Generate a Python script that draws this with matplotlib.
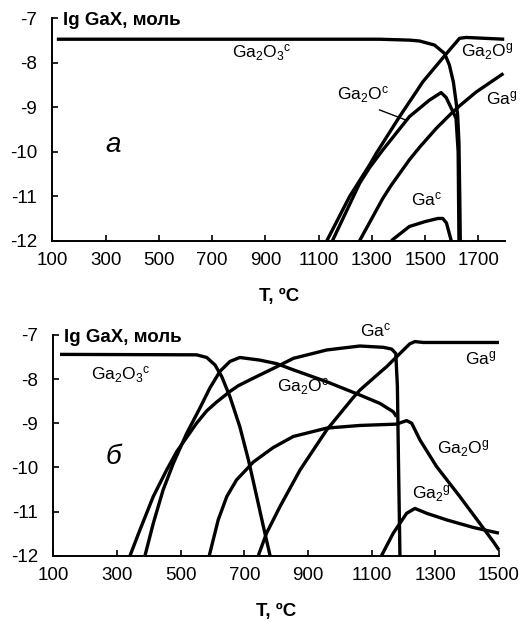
import matplotlib
matplotlib.use("Agg")
import matplotlib.pyplot as plt

plt.rcParams['font.family'] = ['Liberation Sans', 'DejaVu Sans']
plt.rcParams['mathtext.default'] = 'regular'
plt.rcParams['axes.unicode_minus'] = False

# ---- panel a ----
a_ga2o3c_t = [117, 1329, 1441, 1479, 1535, 1573, 1591, 1606, 1616, 1622, 1627, 1630, 1632]
a_ga2o3c_y = [-7.47, -7.47, -7.49, -7.51, -7.60, -7.79, -8.05, -8.43, -8.87, -9.17, -9.8, -11.0, -12.0]
a_ga2og_t = [1131, 1216, 1291, 1316, 1404, 1469, 1491, 1579, 1615, 1629, 1654, 1797]
a_ga2og_y = [-12.0, -11.01, -10.30, -10.04, -9.21, -8.63, -8.43, -7.80, -7.55, -7.45, -7.43, -7.47]
a_ga2oc_t = [1152, 1254, 1291, 1341, 1441, 1516, 1560, 1579, 1598, 1616, 1624, 1627]
a_ga2oc_y = [-12.0, -10.71, -10.36, -9.96, -9.21, -8.84, -8.67, -8.78, -9.02, -9.25, -10.0, -12.0]
a_gag_t = [1254, 1341, 1373, 1441, 1479, 1541, 1598, 1629, 1691, 1794]
a_gag_y = [-12.0, -11.05, -10.75, -10.18, -9.90, -9.48, -9.14, -8.97, -8.66, -8.24]
a_gac_t = [1373, 1441, 1500, 1548, 1566, 1580, 1598]
a_gac_y = [-12.0, -11.68, -11.57, -11.50, -11.50, -11.60, -12.0]

# ---- panel b ----
b_ga2o3c_t = [121, 550, 582, 608, 629, 655, 686, 713, 739, 760, 781]
b_ga2o3c_y = [-7.44, -7.45, -7.51, -7.68, -7.94, -8.40, -9.08, -9.83, -10.66, -11.34, -12.0]
b_ga2oc_t = [388, 414, 445, 477, 519, 561, 592, 624, 655, 686, 749, 802, 854, 959, 1063, 1126, 1168, 1178]
b_ga2oc_y = [-12.0, -11.27, -10.51, -9.91, -9.23, -8.65, -8.20, -7.82, -7.60, -7.51, -7.57, -7.65,
             -7.79, -8.06, -8.36, -8.55, -8.74, -8.85]
b_gac_t = [341, 372, 414, 456, 488, 550, 582, 613, 655, 681, 728, 802, 854, 959, 1063, 1137, 1163,
           1176, 1181, 1184, 1189]
b_gac_y = [-12.0, -11.42, -10.66, -10.06, -9.64, -9.0, -8.72, -8.52, -8.28, -8.15, -7.98, -7.72,
           -7.53, -7.34, -7.25, -7.28, -7.32, -7.42, -8.17, -9.68, -12.0]
b_gag_t = [744, 770, 812, 875, 959, 1042, 1063, 1126, 1147, 1189, 1220, 1236, 1262, 1500]
b_gag_y = [-12.0, -11.49, -10.89, -10.06, -9.15, -8.42, -8.25, -7.85, -7.72, -7.42, -7.20, -7.15,
           -7.17, -7.17]
b_ga2og_t = [590, 618, 645, 676, 705, 728, 791, 854, 959, 1063, 1178, 1210, 1226, 1252, 1304,
             1377, 1440, 1482, 1500]
b_ga2og_y = [-12.0, -11.19, -10.66, -10.28, -10.06, -9.88, -9.55, -9.30, -9.11, -9.05, -9.02, -8.94,
             -9.0, -9.38, -9.98, -10.66, -11.27, -11.68, -11.87]
b_ga2g_t = [1131, 1168, 1210, 1236, 1273, 1336, 1419, 1500]
b_ga2g_y = [-12.0, -11.49, -11.04, -10.93, -11.04, -11.19, -11.36, -11.49]

yticks = [-7, -8, -9, -10, -11, -12]
a_xticks = [100, 300, 500, 700, 900, 1100, 1300, 1500, 1700]
b_xticks = [100, 300, 500, 700, 900, 1100, 1300, 1500]

lw = 2.4
fs = 13.5
lfs = 12.5

fig = plt.figure(figsize=(5.2, 6.21), dpi=100)
ax1 = fig.add_axes([0.1006, 0.6124, 0.8706, 0.3581])
ax2 = fig.add_axes([0.1025, 0.1052, 0.857, 0.3554])


def style(ax, xlim, xticks):
    ax.set_xlim(*xlim)
    ax.set_ylim(-12, -7)
    ax.set_xticks(xticks)
    ax.set_yticks(yticks)
    for s in ['top', 'right']:
        ax.spines[s].set_visible(False)
    for s in ['left', 'bottom']:
        ax.spines[s].set_linewidth(1.4)
    ax.tick_params(direction='in', length=4, width=1.2, labelsize=fs)
    ax.tick_params(axis='y', pad=11)
    ax.tick_params(axis='x', pad=8)
    ax.set_xlabel('T, ºC', fontsize=fs, fontweight='bold', labelpad=14)
    ax.text(xlim[0] + (xlim[1] - xlim[0]) * 0.024, -7.06, 'lg GaX, моль',
            fontsize=fs, fontweight='bold', va='center', ha='left')


for t, y in [(a_ga2o3c_t, a_ga2o3c_y), (a_ga2og_t, a_ga2og_y), (a_ga2oc_t, a_ga2oc_y),
             (a_gag_t, a_gag_y), (a_gac_t, a_gac_y)]:
    ax1.plot(t, y, color='black', lw=lw, clip_on=False, solid_capstyle='butt',
             solid_joinstyle='round')
style(ax1, (100, 1800), a_xticks)
ax1.plot([1329, 1429], [-9.06, -9.29], color='black', lw=1.0)
ax1.text(886, -7.78, r'Ga$_2$O$_3$$^c$', fontsize=lfs, ha='center', va='center')
ax1.text(1636, -7.76, r'Ga$_2$O$^g$', fontsize=lfs, ha='left', va='center')
ax1.text(1168, -8.72, r'Ga$_2$O$^c$', fontsize=lfs, ha='left', va='center')
ax1.text(1727, -8.8, r'Ga$^g$', fontsize=lfs, ha='left', va='center')
ax1.text(1448, -11.08, r'Ga$^c$', fontsize=lfs, ha='left', va='center')
ax1.text(328, -9.85, 'a', fontsize=20, style='italic', ha='center', va='center')

for t, y in [(b_ga2o3c_t, b_ga2o3c_y), (b_ga2oc_t, b_ga2oc_y), (b_gac_t, b_gac_y),
             (b_gag_t, b_gag_y), (b_ga2og_t, b_ga2og_y), (b_ga2g_t, b_ga2g_y)]:
    ax2.plot(t, y, color='black', lw=lw, clip_on=False, solid_capstyle='butt',
             solid_joinstyle='round')
style(ax2, (100, 1500), b_xticks)
ax2.text(220, -7.91, r'Ga$_2$O$_3$$^c$', fontsize=lfs, ha='left', va='center')
ax2.text(802, -8.17, r'Ga$_2$O$^c$', fontsize=lfs, ha='left', va='center')
ax2.text(1063, -6.89, r'Ga$^c$', fontsize=lfs, ha='left', va='center')
ax2.text(1393, -7.53, r'Ga$^g$', fontsize=lfs, ha='left', va='center')
ax2.text(1304, -9.57, r'Ga$_2$O$^g$', fontsize=lfs, ha='left', va='center')
ax2.text(1226, -10.59, r'Ga$_2$$^g$', fontsize=lfs, ha='left', va='center')
ax2.text(288, -9.76, 'б', fontsize=20, style='italic', ha='center', va='center')

fig.savefig('out.png', dpi=100)
